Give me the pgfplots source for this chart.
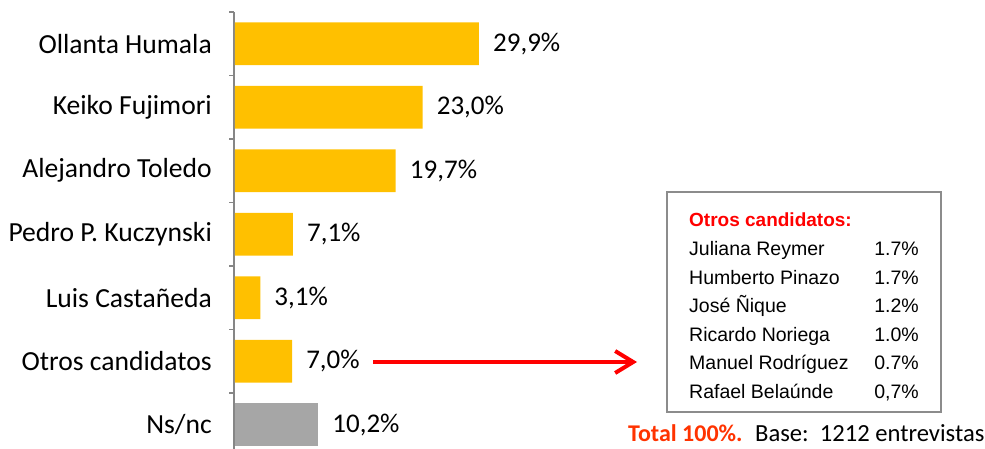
\documentclass[border=0pt]{standalone}
\usepackage{pgfplots}
\pgfplotsset{compat=1.18}
\usepackage{fontspec}
\setmainfont{Carlito}
\newfontfamily\arial{Liberation Sans}
\usetikzlibrary{arrows.meta}
\definecolor{gold}{HTML}{FFC000}
\definecolor{nsgray}{HTML}{A6A6A6}
\definecolor{axgray}{HTML}{868686}
\definecolor{boxgray}{HTML}{8C8C8C}
\definecolor{totorange}{HTML}{FF3300}
\begin{document}
\begin{tikzpicture}[x=1pt,y=1pt]
\begin{axis}[
  at={(234pt,-7.5pt)}, anchor=south west,
  scale only axis, width=751pt, height=444.5pt,
  xbar, bar shift=0pt, bar width=42.7pt,
  xmin=-0.12, xmax=91.91, ymin=-0.5, ymax=6.5, y dir=reverse,
  axis x line=none, axis y line*=left,
  y axis line style={draw=axgray, line width=1.5pt, -},
  ytick={0,1,2,3,4,5,6},
  yticklabels={Ollanta Humala,Keiko Fujimori,Alejandro Toledo,Pedro P. Kuczynski,Luis Castañeda,Otros candidatos,Ns/nc},
  major tick length=0pt,
  yticklabel style={font=\fontsize{27.6}{31}\selectfont, anchor=east, inner sep=0pt, xshift=-22pt},
  extra y ticks={-0.5,0.5,1.5,2.5,3.5,4.5,5.5,6.5},
  extra y tick labels={},
  extra y tick style={major tick length=5pt, tick align=outside, tick style={draw=axgray, line width=1.5pt}},
  nodes near coords, point meta=explicit symbolic,
  every node near coord/.append style={font=\fontsize{27}{31}\selectfont, anchor=west, inner sep=0pt, xshift=14pt, text=black},
  clip=false,
]
\addplot[fill=gold, draw=none] coordinates {(29.9,0) [29,9\%] (23.0,1) [23,0\%] (19.7,2) [19,7\%] (7.1,3) [7,1\%] (3.1,4) [3,1\%] (7.0,5) [7,0\%]};
\addplot[fill=nsgray, draw=none] coordinates {(10.2,6) [10,2\%]};
\end{axis}
\draw[red, line width=4pt, -{Straight Barb[length=18pt, width=22pt, line width=4pt]}] (373,87) -- (637,87);
\draw[draw=boxgray, line width=2pt] (667,37) rectangle (941,257);
\begin{scope}[every node/.style={inner sep=0pt, font=\arial\fontsize{19.5}{22}\selectfont}]
\node[anchor=base west, text=red, font=\arial\bfseries\fontsize{19}{22}\selectfont] at (689,222.3) {Otros candidatos:};
\node[anchor=base west] at (689,193) {Juliana Reymer};
\node[anchor=base west] at (689,164.5) {Humberto Pinazo};
\node[anchor=base west] at (689,136.1) {José Ñique};
\node[anchor=base west] at (689,107.7) {Ricardo Noriega};
\node[anchor=base west] at (689,79.2) {Manuel Rodríguez};
\node[anchor=base west] at (689,50.7) {Rafael Belaúnde};
\node[anchor=base east] at (919,193) {1.7\%};
\node[anchor=base east] at (919,164.5) {1.7\%};
\node[anchor=base east] at (919,136.1) {1.2\%};
\node[anchor=base east] at (919,107.7) {1.0\%};
\node[anchor=base east] at (919,79.2) {0.7\%};
\node[anchor=base east] at (919,50.7) {0,7\%};
\end{scope}
\node[anchor=base west, inner sep=0pt, text=totorange, font=\bfseries\fontsize{24}{28}\selectfont] at (628,7.3) {Total 100\%.};
\node[anchor=base west, inner sep=0pt, font=\fontsize{24.6}{28}\selectfont] at (755,7.3) {Base:\ \ 1212 entrevistas};
\pgfresetboundingbox
\path[use as bounding box] (0,0) rectangle (985,449);
\end{tikzpicture}
\end{document}
